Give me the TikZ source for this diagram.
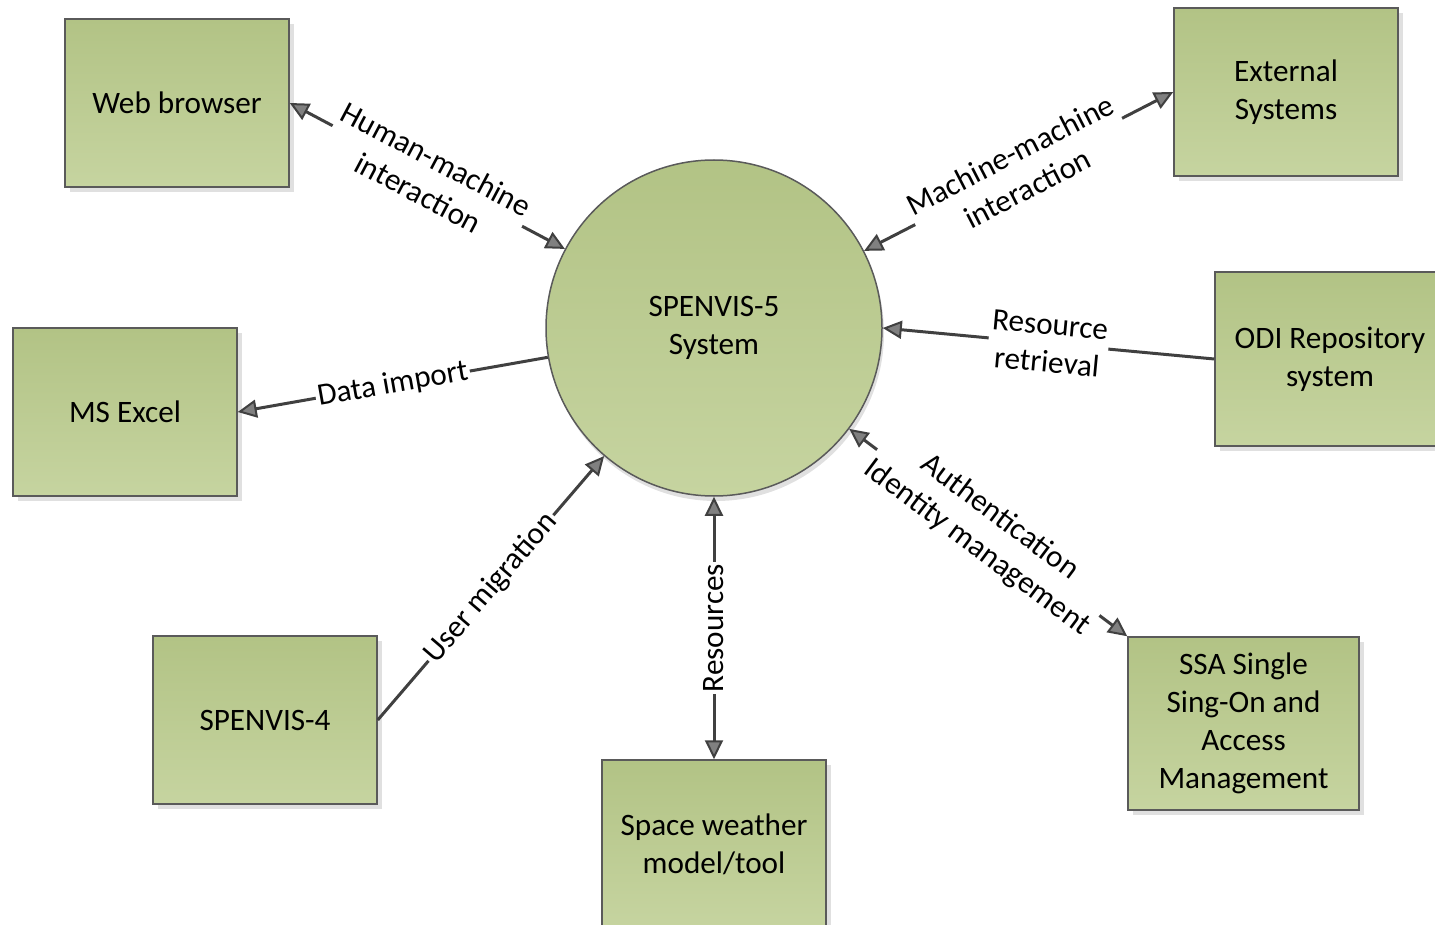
\documentclass[tikz,border=0pt]{standalone}
\usepackage{fontspec}
\setmainfont{Carlito}
\usetikzlibrary{arrows.meta,shadows}
\definecolor{boxtop}{RGB}{178,195,133}
\definecolor{boxbot}{RGB}{198,212,160}
\definecolor{edgec}{RGB}{64,64,64}
\definecolor{bordc}{RGB}{90,90,90}
\definecolor{tipc}{RGB}{128,128,128}
\begin{document}
\begin{tikzpicture}[x=0.5pt,y=-0.5pt,
  lblfont/.style={font=\fontsize{15.6}{19}\selectfont},
  box/.style={rectangle, draw=bordc, line width=0.75pt, top color=boxtop, bottom color=boxbot,
    drop shadow={shadow xshift=2.5pt,shadow yshift=-2.5pt,fill=black!12,opacity=1},
    align=center, inner sep=0pt, lblfont},
  hub/.style={circle, draw=bordc, line width=0.75pt, top color=boxtop, bottom color=boxbot,
    drop shadow={shadow xshift=1pt,shadow yshift=-2.5pt,fill=black!12,opacity=1},
    align=center, inner sep=0pt, minimum size=168pt, lblfont},
  lbl/.style={fill=white, sloped, align=center, inner sep=1pt, lblfont},
  vlbl/.style={fill=white, rotate=90, align=center, inner sep=1pt, lblfont},
  conn/.style={draw=edgec, line width=1.5pt,
    >={Triangle[length=9.5pt,width=9pt,fill=tipc,line width=1pt]}}
]
\useasboundingbox (0,0) rectangle (1435,925);
\clip (0,0) rectangle (1435,925);
\node[box, minimum width=112pt, minimum height=84pt] (wb) at (177,103) {Web browser};
\node[box, minimum width=112pt, minimum height=84pt] (ext) at (1286,92) {External\\Systems};
\node[box, minimum width=112pt, minimum height=84pt] (excel) at (125,412) {MS Excel};
\node[box, minimum width=115pt, minimum height=87pt] (odi) at (1330,359) {ODI Repository\\system};
\node[box, minimum width=112pt, minimum height=84pt] (s4) at (265,720) {SPENVIS-4};
\node[box, minimum width=112pt, minimum height=84pt] (sw) at (714,844) {Space weather\\model/tool};
\node[box, minimum width=115.5pt, minimum height=86.5pt] (ssa) at (1243.5,723.5) {SSA Single\\Sing-On and\\Access\\Management};
\node[hub] (c) at (714,328) {SPENVIS-5\\System};

\draw[conn,<->] (wb.east) -- node[lbl]{Human-machine\\interaction} (c);
\draw[conn,<->] (ext.west) -- node[lbl]{Machine-machine\\interaction} (c);
\draw[conn,<-] (excel.east) -- node[lbl]{Data import} (c);
\draw[conn,->] (odi.west) -- node[lbl]{Resource\\retrieval} (c.east);
\draw[conn,<->] (ssa.north west) -- node[lbl]{Authentication\\Identity management} (c);
\draw[conn,<->] (sw.north) -- node[vlbl]{Resources} (c.south);
\draw[conn,->] (s4.east) -- node[lbl]{User migration} (c);
\end{tikzpicture}
\end{document}
